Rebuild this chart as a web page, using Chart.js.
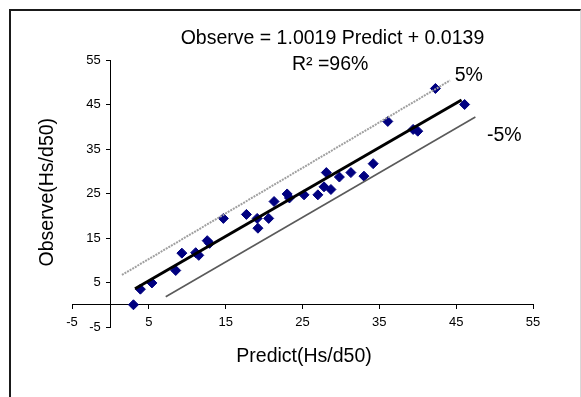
<!DOCTYPE html>
<html>
<head>
<meta charset="utf-8">
<script src="https://cdn.jsdelivr.net/npm/chart.js@4.4.1/dist/chart.umd.min.js"></script>
<style>
  html, body { margin: 0; padding: 0; background: #fff; width: 581px; height: 397px; overflow: hidden; }
  #frame { position: absolute; left: 9px; top: 9px; width: 569px; height: 420px;
           border-left: 2px solid #1a1a1a; border-top: 2px solid #1a1a1a; border-right: 1px solid #d8d8d8; }
  #c { position: absolute; left: 0; top: 0; }
</style>
</head>
<body>
<div id="frame"></div>
<canvas id="c" width="581" height="397"></canvas>
<script>
// ---- data ----
const predict = [3.0, 3.9, 5.4, 8.5, 9.3, 11.1, 11.5, 12.6, 12.9, 14.7, 17.7, 19.1, 19.2, 20.6, 21.3,
                 23.0, 23.3, 25.2, 27.0, 27.8, 28.1, 28.7, 29.8, 31.3, 33.0, 34.2, 36.1, 39.4, 40.0, 42.3, 46.1];
const observe = [0.0, 3.5, 4.9, 7.7, 11.6, 11.7, 11.1, 14.4, 13.8, 19.4, 20.3, 19.4, 17.2, 19.4, 23.2,
                 24.9, 24.0, 24.7, 24.7, 26.5, 29.7, 25.9, 28.7, 29.7, 28.9, 31.7, 41.2, 39.4, 39.0, 48.6, 45.0];
const trendX = [3.2, 45.7];
const trendY = [3.6, 46.0];
const upperX = [1.5, 44.2];
const upperY = [6.7, 50.4];
const lowerX = [7.2, 47.5];
const lowerY = [1.8, 42.2];
const tickValues = [-5, 5, 15, 25, 35, 45, 55];

const equationText = 'Observe = 1.0019 Predict + 0.0139';
const r2Text = 'R\u00B2 =96%';
const upperLabel = '5%';
const lowerLabel = '-5%';
const xTitle = 'Predict(Hs/d50)';
const yTitle = 'Observe(Hs/d50)';

const toPts = (xs, ys) => xs.map((x, i) => ({x: x, y: ys[i]}));

const textPlugin = {
  id: 'freeText',
  afterDraw(chart, args, opts) {
    const {ctx, scales} = chart;
    ctx.save();
    for (const t of opts.items) {
      const px = scales.x.getPixelForValue(t.x);
      const py = scales.y.getPixelForValue(t.y);
      ctx.font = t.font;
      ctx.fillStyle = '#000';
      ctx.textAlign = t.align || 'center';
      ctx.textBaseline = 'middle';
      ctx.translate(px, py);
      ctx.rotate(t.rotation || 0);
      ctx.fillText(t.text, 0, 0);
      ctx.setTransform(1, 0, 0, 1, 0, 0);
    }
    ctx.restore();
  }
};

const bigFont = '19.5px "Liberation Sans", Arial, sans-serif';
const tickFont = { size: 13, family: '"Liberation Sans", Arial' };
const setTicks = (s) => { s.ticks = tickValues.map(v => ({value: v})); };

new Chart(document.getElementById('c'), {
  type: 'scatter',
  data: {
    datasets: [
      { type: 'line', data: toPts(trendX, trendY), borderColor: '#000', borderWidth: 3,
        pointRadius: 0, fill: false },
      { type: 'line', data: toPts(upperX, upperY), borderColor: '#a0a0a0', borderWidth: 2,
        borderDash: [2, 1], pointRadius: 0, fill: false },
      { type: 'line', data: toPts(lowerX, lowerY), borderColor: '#5a5a5a', borderWidth: 1.6,
        pointRadius: 0, fill: false },
      { data: toPts(predict, observe), pointStyle: 'rectRot', pointRadius: 5,
        backgroundColor: '#000080', borderColor: '#000080', borderWidth: 1 }
    ]
  },
  options: {
    responsive: false,
    animation: false,
    devicePixelRatio: 1,
    layout: { padding: { left: 72, right: 48, top: 60, bottom: 70 } },
    plugins: {
      legend: { display: false },
      tooltip: { enabled: false },
      freeText: {
        items: [
          { text: equationText, x: 28.9, y: 59.9, font: bigFont },
          { text: r2Text, x: 28.6, y: 54.0, font: bigFont },
          { text: upperLabel, x: 44.8, y: 51.6, font: bigFont, align: 'left' },
          { text: lowerLabel, x: 49.0, y: 37.9, font: bigFont, align: 'left' },
          { text: xTitle, x: 25.2, y: -11.6, font: bigFont },
          { text: yTitle, x: -8.2, y: 25.3, font: bigFont, rotation: -Math.PI / 2 }
        ]
      }
    },
    scales: {
      x: {
        type: 'linear', min: -5, max: 55,
        position: { y: 0 },
        afterBuildTicks: setTicks,
        ticks: { color: '#000', font: tickFont, padding: 6, maxRotation: 0 },
        grid: { drawOnChartArea: false, drawTicks: true, tickLength: 4, color: '#000' },
        border: { display: true, color: '#000', width: 1 }
      },
      // value scale carrying the tick labels, set a little left of the axis line
      y: {
        type: 'linear', min: -5, max: 55,
        position: { x: -1.25 },
        afterBuildTicks: setTicks,
        ticks: { color: '#000', font: tickFont },
        grid: { display: false, drawOnChartArea: false, drawTicks: false },
        border: { display: false }
      },
      // the visible vertical axis line with its tick marks, crossing at x = 0
      yAxisLine: {
        type: 'linear', axis: 'y', min: -5, max: 55,
        position: { x: 0 },
        afterBuildTicks: setTicks,
        ticks: { display: false },
        grid: { drawOnChartArea: false, drawTicks: true, tickLength: 4, color: '#000' },
        border: { display: true, color: '#000', width: 1 }
      }
    }
  },
  plugins: [textPlugin]
});
</script>
</body>
</html>
